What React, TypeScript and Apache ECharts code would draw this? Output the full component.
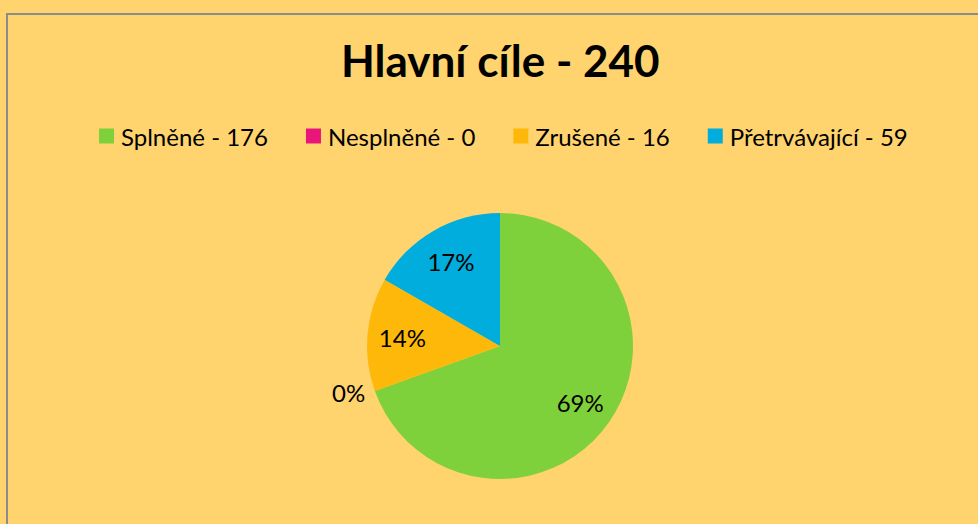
import React, { useEffect, useRef } from "react";
import * as echarts from "echarts";

const titleText = "Hlavní cíle - 240";
const legendNames = ["Splněné - 176", "Nesplněné - 0", "Zrušené - 16", "Přetrvávající - 59"];
const sliceValues = [69.5, 0, 13.8, 16.7];
const sliceColors = ["#7FD13B", "#EA157A", "#FEB80A", "#00ADDC"];

const FONT = "Lato";

export default function App() {
  const ref = useRef<HTMLDivElement>(null);
  useEffect(() => {
    if (!ref.current) return;
    const chart = echarts.init(ref.current, undefined, { renderer: "svg" });
    const mainData = legendNames.map((name, i) => ({
      name,
      value: sliceValues[i],
      itemStyle: { color: sliceColors[i] },
    }));
    const labelData = legendNames.map((name, i) => ({
      name,
      value: sliceValues[i],
      itemStyle: { color: "rgba(0,0,0,0)" },
      label:
        sliceValues[i] === 0
          ? { position: "outside" as const }
          : { position: "inside" as const },
      labelLine: { show: false, length: 5, length2: 0 },
    }));
    chart.setOption({
      animation: false,
      backgroundColor: "#FFD36E",
      title: {
        text: titleText,
        left: 336,
        top: 33,
        textStyle: { fontFamily: FONT, fontWeight: "bold", fontSize: 44, color: "#000" },
      },
      legend: {
        data: legendNames,
        top: 119,
        left: 94,
        itemWidth: 15,
        itemHeight: 15,
        itemGap: 38,
        icon: "rect",
        selectedMode: false,
        textStyle: { fontFamily: FONT, fontSize: 24, color: "#000", padding: [0, 0, 0, 2] },
      },
      graphic: [
        {
          type: "rect",
          shape: { x: 7, y: 14, width: 1100, height: 700 },
          style: { fill: "none", stroke: "#8C8C8C", lineWidth: 2 },
          silent: true,
          z: 100,
        },
      ],
      series: [
        {
          type: "pie",
          center: [500, 346],
          radius: [0, 133],
          startAngle: 90,
          clockwise: true,
          silent: true,
          label: { show: false },
          labelLine: { show: false },
          data: mainData,
        },
        {
          type: "pie",
          center: [500, 346],
          radius: [57, 133],
          startAngle: 90,
          clockwise: true,
          silent: true,
          percentPrecision: 0,
          label: {
            show: true,
            formatter: "{d}%",
            fontFamily: FONT,
            fontSize: 24,
            color: "#000",
          },
          data: labelData,
          z: 3,
        },
      ],
    });
    return () => chart.dispose();
  }, []);
  return (
    <div
      ref={ref}
      style={{ position: "fixed", left: 0, top: 0, width: 978, height: 524 }}
    />
  );
}
